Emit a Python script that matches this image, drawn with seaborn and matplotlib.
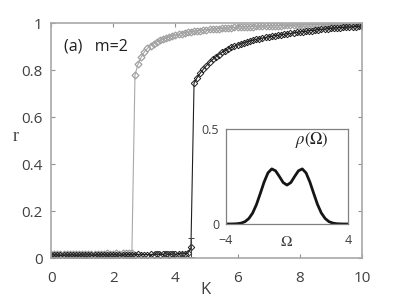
# Transição de sincronização (r vs K) com histerese, m=2

import numpy as np
import matplotlib
matplotlib.use("Agg")
import matplotlib.pyplot as plt
import seaborn as sns

sns.set_style("ticks")
plt.rcParams['font.family'] = ['Open Sans', 'DejaVu Sans']
plt.rcParams['mathtext.fontset'] = 'stix'

# Acoplamento K (passo 0.1)
K = np.round(np.arange(0, 10.01, 0.1), 1)

# Ramo de ida (preto)
r_fwd = [0.012, 0.013, 0.012, 0.011, 0.013, 0.012, 0.012, 0.013, 0.011, 0.012,
         0.013, 0.012, 0.014, 0.012, 0.013, 0.012, 0.013, 0.014, 0.012, 0.013,
         0.014, 0.013, 0.012, 0.014, 0.013, 0.015, 0.013, 0.014, 0.016, 0.013,
         0.015, 0.014, 0.016, 0.014, 0.017, 0.015, 0.016, 0.018, 0.015, 0.017,
         0.016, 0.019, 0.017, 0.018, 0.021, 0.045,
         0.745, 0.768, 0.787, 0.804, 0.819, 0.833, 0.845, 0.856, 0.866, 0.875,
         0.883, 0.890, 0.896, 0.902, 0.907, 0.912, 0.916, 0.920, 0.924, 0.927,
         0.930, 0.933, 0.936, 0.939, 0.941, 0.944, 0.946, 0.948, 0.950, 0.952,
         0.954, 0.956, 0.958, 0.960, 0.962, 0.963, 0.965, 0.967, 0.968, 0.970,
         0.971, 0.973, 0.974, 0.975, 0.977, 0.978, 0.979, 0.980, 0.981, 0.982,
         0.983, 0.984, 0.985, 0.986, 0.987]

# Ramo de volta (cinza)
r_back = [0.018, 0.017, 0.019, 0.018, 0.017, 0.019, 0.018, 0.017, 0.018, 0.019,
          0.018, 0.017, 0.019, 0.018, 0.019, 0.018, 0.017, 0.019, 0.020, 0.018,
          0.019, 0.020, 0.019, 0.021, 0.020, 0.022, 0.021,
          0.780, 0.825, 0.855, 0.877, 0.892, 0.903, 0.912, 0.920, 0.926, 0.931,
          0.936, 0.941, 0.945, 0.949, 0.952, 0.955, 0.958, 0.960, 0.962, 0.964,
          0.966, 0.968, 0.970, 0.971, 0.973, 0.974, 0.975, 0.976, 0.977, 0.978,
          0.979, 0.980, 0.981, 0.982, 0.983, 0.983, 0.984, 0.985, 0.985, 0.986,
          0.986, 0.987, 0.987, 0.988, 0.988, 0.989, 0.989, 0.989, 0.990, 0.990,
          0.990, 0.991, 0.991, 0.991, 0.992, 0.992, 0.992, 0.993, 0.993, 0.993,
          0.993, 0.994, 0.994, 0.994, 0.994, 0.994, 0.995, 0.995, 0.995, 0.995,
          0.995, 0.996, 0.996, 0.996]

# Barras de erro do ramo de ida
err_k = [1.1, 3.4, 3.7, 3.9, 4.2, 4.5]
err_dr = [0.010, 0.012, 0.010, 0.012, 0.010, 0.040]

# Distribuição de frequências do inset
omega = [-4, -3.75, -3.5, -3.25, -3, -2.75, -2.5, -2.25, -2, -1.75, -1.5, -1.25, -1,
         -0.75, -0.5, -0.25, 0, 0.25, 0.5, 0.75, 1, 1.25, 1.5, 1.75, 2, 2.25,
         2.5, 2.75, 3, 3.25, 3.5, 3.75, 4]
rho = [0.000, 0.0001, 0.0005, 0.0016, 0.0048, 0.0125, 0.029, 0.058, 0.103, 0.161,
       0.221, 0.269, 0.290, 0.280, 0.250, 0.218, 0.205, 0.218, 0.250, 0.280,
       0.290, 0.269, 0.221, 0.161, 0.103, 0.058, 0.029, 0.0125, 0.0048, 0.0016,
       0.0005, 0.0001, 0.000]

fig = plt.figure(figsize=(3.99, 2.99), dpi=100)
ax = fig.add_axes([0.128, 0.137, 0.779, 0.786])

sns.lineplot(x=K, y=r_back, ax=ax, color='#a8a8a8', lw=0.8, marker='D', markersize=3.5,
             markerfacecolor='none', markeredgecolor='#a0a0a0', markeredgewidth=0.9,
             errorbar=None)
sns.lineplot(x=K, y=r_fwd, ax=ax, color='#202020', lw=0.8, marker='D', markersize=3.3,
             markerfacecolor='none', markeredgecolor='#202020', markeredgewidth=0.7,
             errorbar=None)

r_at = dict(zip(K.tolist(), r_fwd))
ax.errorbar(err_k, [r_at[k] for k in err_k], yerr=err_dr, fmt='none',
            ecolor='#404040', elinewidth=0.7, capsize=2, capthick=0.7)

ax.set_xlim(0, 10)
ax.set_ylim(0, 1)
ax.set_xticks([0, 2, 4, 6, 8, 10])
ax.set_yticks([0, 0.2, 0.4, 0.6, 0.8, 1])
ax.set_yticklabels(['0', '0.2', '0.4', '0.6', '0.8', '1'])
ax.tick_params(direction='in', top=True, right=True, length=3, width=0.8,
               color='#909090', labelsize=11, labelcolor='#404040')
ax.tick_params(axis='x', pad=9)
ax.tick_params(axis='y', pad=6)
for s in ax.spines.values():
    s.set_color('#a8a8a8')
    s.set_linewidth(1.2)

fig.text(206 / 399, 1 - 290 / 299, 'K', ha='center', va='center', fontsize=12, color='#404040')
fig.text(15.5 / 399, 1 - 137 / 299, 'r', ha='center', va='center', fontsize=13,
         family='Liberation Serif', color='#404040')
ax.text(0.042, 0.898, '(a)   m=2', transform=ax.transAxes, ha='left', va='center',
        fontsize=11.5, color='#202020')

# Inset com rho(Omega)
ins = fig.add_axes([226 / 399, 1 - 224 / 299, 122 / 399, 95 / 299])
sns.lineplot(x=omega, y=rho, ax=ins, color='#151515', lw=2)
ins.set_xlim(-4, 4)
ins.set_ylim(0, 0.5)
ins.set_xticks([-4, 4])
ins.set_yticks([0, 0.5])
ins.set_yticklabels(['0', '0.5'])
ins.tick_params(length=0, labelsize=9, labelcolor='#404040')
ins.tick_params(axis='x', pad=7)
ins.tick_params(axis='y', pad=5)
for s in ins.spines.values():
    s.set_color('#808080')
    s.set_linewidth(0.9)
ins.text(0, -0.2, r'$\Omega$', transform=ins.get_xaxis_transform(), ha='center',
         va='center', fontsize=11, color='#404040')
ins.text(0.70, 0.88, r'$\rho(\Omega)$', transform=ins.transAxes, ha='center',
         va='center', fontsize=12, color='#202020')

plt.savefig('out.png', dpi=100)
